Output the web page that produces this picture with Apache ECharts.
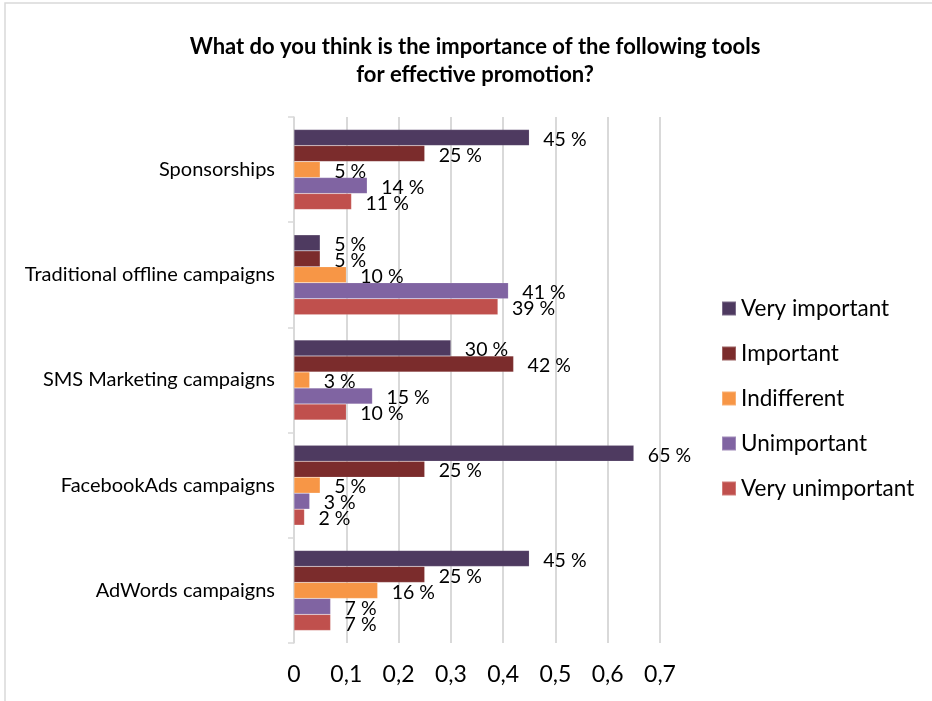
<!DOCTYPE html>
<html>
<head>
<meta charset="utf-8">
<script src="https://cdn.jsdelivr.net/npm/echarts@6/dist/echarts.min.js"></script>
<style>
  html, body { margin: 0; padding: 0; background: #fff; }
  #chart { width: 932px; height: 701px; }
</style>
</head>
<body>
<div id="chart"></div>
<script>
// categories from top to bottom
const categories = ['Sponsorships', 'Traditional offline campaigns', 'SMS Marketing campaigns', 'FacebookAds campaigns', 'AdWords campaigns']
const seriesNames = ['Very important', 'Important', 'Indifferent', 'Unimportant', 'Very unimportant']
const veryImportant = [0.45, 0.05, 0.30, 0.65, 0.45]
const important = [0.25, 0.05, 0.42, 0.25, 0.25]
const indifferent = [0.05, 0.10, 0.03, 0.05, 0.16]
const unimportant = [0.14, 0.41, 0.15, 0.03, 0.07]
const veryUnimportant = [0.11, 0.39, 0.10, 0.02, 0.07]
const colors = ['#4e3a60', '#7b2c2c', '#f79646', '#8064a2', '#c0504d']

const font = 'Lato, "Open Sans", sans-serif'
const chart = echarts.init(document.getElementById('chart'))

const allData = [veryImportant, important, indifferent, unimportant, veryUnimportant]
const series = seriesNames.map((name, i) => ({
  name: name,
  type: 'bar',
  data: allData[i],
  barGap: '0%',
  barCategoryGap: '24%',
  itemStyle: { color: colors[i], borderColor: 'rgba(255,255,255,0.25)', borderWidth: 0.5 },
  label: {
    show: true,
    position: 'right',
    distance: 14,
    offset: [0, 2],
    color: '#000',
    fontSize: 19.5,
    fontFamily: font,
    formatter(p) {
      return Math.round(p.value * 100) + ' %'
    }
  }
}))

chart.setOption({
  animation: false,
  title: {
    text: 'What do you think is the importance of the following tools\nfor effective promotion?',
    left: 470,
    textAlign: 'center',
    top: 28,
    textStyle: {
      fontSize: 22,
      fontWeight: 'bold',
      fontFamily: font,
      color: '#000',
      lineHeight: 28
    }
  },
  graphic: [{
    type: 'rect',
    shape: { x: 5, y: 3, width: 940, height: 710 },
    style: { fill: 'none', stroke: '#d9d9d9', lineWidth: 1.5 },
    silent: true
  }],
  legend: {
    orient: 'vertical',
    left: 716,
    top: 292,
    itemWidth: 14,
    itemHeight: 14,
    itemGap: 22,
    icon: 'rect',
    textStyle: { fontSize: 22.5, fontFamily: font, color: '#000' },
    data: seriesNames
  },
  grid: {
    left: 294,
    right: 272,
    top: 117,
    bottom: 58
  },
  xAxis: {
    type: 'value',
    min: 0,
    max: 0.7,
    interval: 0.1,
    axisLine: { show: false },
    axisTick: { show: false },
    splitLine: { lineStyle: { color: '#d9d9d9', width: 2 } },
    axisLabel: {
      fontSize: 23,
      fontFamily: font,
      color: '#000',
      margin: 20,
      formatter(v) {
        return String(Math.round(v * 10) / 10).replace('.', ',')
      }
    }
  },
  yAxis: {
    type: 'category',
    inverse: true,
    data: categories,
    axisLine: { lineStyle: { color: '#d9d9d9', width: 1.5 } },
    axisTick: { show: true, length: 6, lineStyle: { color: '#d9d9d9', width: 1.5 } },
    axisLabel: { fontSize: 20, fontFamily: font, color: '#000', margin: 19 }
  },
  series: series
})
</script>
</body>
</html>
